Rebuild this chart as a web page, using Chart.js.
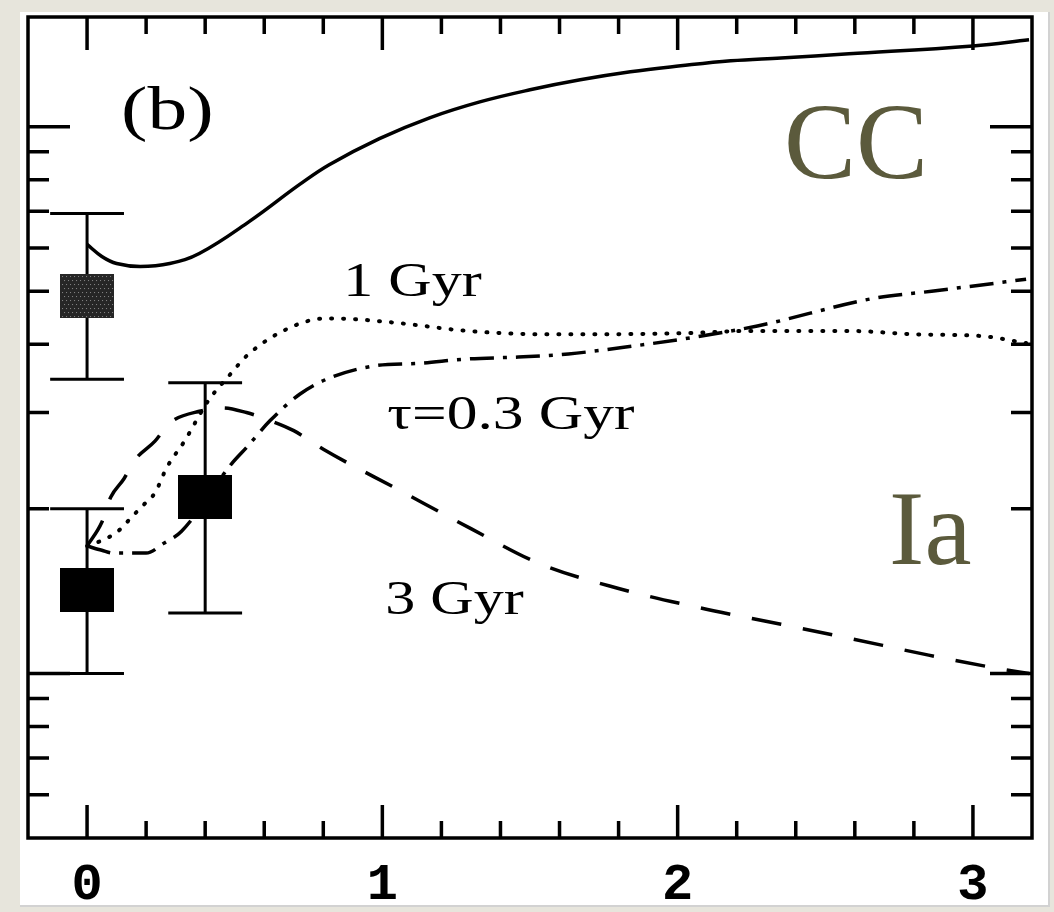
<!DOCTYPE html>
<html>
<head>
<meta charset="utf-8">
<title>Ia / CC</title>
<script src="https://cdn.jsdelivr.net/npm/chart.js@4.4.1/dist/chart.umd.min.js"></script>
<style>
  html, body { margin: 0; padding: 0; }
  body { width: 1054px; height: 912px; background: #e7e5dc; position: relative; overflow: hidden; }
  #frame { position: absolute; left: 20px; top: 12px; width: 1028px; height: 893px; background: #fff;
           border-right: 2px solid #d2d2d2; border-bottom: 2px solid #d2d2d2; }
</style>
</head>
<body>
<div id="frame"><canvas id="chart"></canvas></div>
<script>
// solid curve (CC)
const ccX = [0, 0.05, 0.1, 0.18, 0.28, 0.38, 0.55, 0.72, 0.82, 0.99, 1.16, 1.33, 1.5, 1.67, 1.84, 2.01, 2.18, 2.35, 2.58, 3.0, 3.19];
const ccY = [6.09, 5.79, 5.62, 5.55, 5.62, 5.86, 6.71, 7.84, 8.52, 9.51, 10.38, 11.1, 11.68, 12.18, 12.6, 12.92, 13.2, 13.36, 13.59, 14.05, 14.42];

// dotted curve (1 Gyr)
const oneGyrX = [0, 0.07, 0.115, 0.15, 0.19, 0.23, 0.27, 0.33, 0.41, 0.48, 0.55, 0.7, 0.81, 0.89, 1.06, 1.29, 1.57, 2.02, 2.24, 2.58, 2.81, 3.03, 3.18];
const oneGyrY = [1.71, 1.77, 1.84, 1.93, 2.03, 2.14, 2.38, 2.66, 3.15, 3.5, 3.85, 4.32, 4.46, 4.45, 4.37, 4.23, 4.17, 4.19, 4.23, 4.23, 4.17, 4.14, 4.02];

// dash-dot curve (tau = 0.3 Gyr)
const tauX = [0, 0.05, 0.09, 0.2, 0.26, 0.32, 0.49, 0.54, 0.62, 0.72, 0.81, 0.97, 1.12, 1.29, 1.46, 1.63, 1.85, 2.02, 2.27, 2.67, 2.86, 3.18];
const tauY = [1.71, 1.68, 1.66, 1.66, 1.73, 1.82, 2.42, 2.59, 2.9, 3.24, 3.45, 3.65, 3.69, 3.76, 3.79, 3.84, 3.97, 4.09, 4.32, 4.86, 5.0, 5.26];

// dashed curve (3 Gyr)
const threeGyrX = [0, 0.05, 0.08, 0.125, 0.16, 0.23, 0.28, 0.385, 0.46, 0.54, 0.62, 0.7, 0.8, 1.06, 1.3, 1.53, 1.8, 2.07, 2.35, 2.58, 2.85, 3.09, 3.19];
const threeGyrY = [1.71, 1.89, 2.1, 2.27, 2.45, 2.66, 2.87, 3.02, 3.06, 3.0, 2.9, 2.78, 2.57, 2.16, 1.84, 1.59, 1.43, 1.32, 1.23, 1.16, 1.08, 1.02, 1.0];

// measured points with error bars
const blackX = [0, 0.4];
const blackY = [1.42, 2.1];
const blackLow = [1.0, 1.29];
const blackHigh = [2.0, 3.4];
const grayX = [0];
const grayY = [4.9];
const grayLow = [3.45];
const grayHigh = [6.94];

// ticks
const xLabels = [0, 1, 2, 3];
const xMinor = [0.2, 0.4, 0.6, 0.8, 1.2, 1.4, 1.6, 1.8, 2.2, 2.4, 2.6, 2.8, 3.0];
const yMajor = [1, 10];
const yMinor = [0.6, 0.7, 0.8, 0.9, 2, 3, 4, 5, 6, 7, 8, 9];

const CAP = 0.125;
const olive = '#5b5a3c';

const notes = [
    { text: '(b)', x: 0.115, y: 9.92, font: '62px "Liberation Serif"', color: '#000', sx: 1.28 },
    { text: 'CC', x: 2.36, y: 8.04, font: '108px "Liberation Serif"', color: olive, sx: 1 },
    { text: 'Ia', x: 2.716, y: 1.587, font: '106px "Liberation Serif"', color: olive, sx: 1 },
    { text: '1 Gyr', x: 0.868, y: 4.9, font: '48px "Liberation Serif"', color: '#000', sx: 1.25 },
    { text: 'τ=0.3 Gyr', x: 1.017, y: 2.8, font: '48px "Liberation Serif"', color: '#000', sx: 1.28 },
    { text: '3 Gyr', x: 1.01, y: 1.287, font: '48px "Liberation Serif"', color: '#000', sx: 1.25 }
];

function pts(xs, ys) {
    return xs.map((x, i) => ({ x: x, y: ys[i] }));
}

function squareImage(gray) {
    const c = document.createElement('canvas');
    c.width = 54;
    c.height = 44;
    const g = c.getContext('2d');
    g.fillStyle = gray ? '#262626' : '#000';
    g.fillRect(0, 0, 54, 44);
    if (gray) {
        g.fillStyle = '#8c8c8c';
        for (let yy = 2; yy < 44; yy += 4) {
            for (let xx = (yy % 8 === 2 ? 2 : 4); xx < 54; xx += 4) {
                g.fillRect(xx, yy, 1, 1);
            }
        }
    }
    return c;
}

const errorBars = {
    id: 'errorBars',
    beforeDatasetsDraw(chart) {
        const { ctx, scales: { x, y } } = chart;
        ctx.save();
        ctx.strokeStyle = '#000';
        ctx.lineWidth = 3;
        chart.data.datasets.forEach(ds => {
            if (!ds.errLow) return;
            ds.data.forEach((p, i) => {
                const px = x.getPixelForValue(p.x);
                const top = y.getPixelForValue(ds.errHigh[i]);
                const bot = y.getPixelForValue(ds.errLow[i]);
                const l = x.getPixelForValue(p.x - CAP);
                const r = x.getPixelForValue(p.x + CAP);
                ctx.beginPath();
                ctx.moveTo(px, top); ctx.lineTo(px, bot);
                ctx.moveTo(l, top); ctx.lineTo(r, top);
                ctx.moveTo(l, bot); ctx.lineTo(r, bot);
                ctx.stroke();
            });
        });
        ctx.restore();
    }
};

const frameTicks = {
    id: 'frameTicks',
    afterDatasetsDraw(chart) {
        const { ctx, chartArea: a, scales: { x, y } } = chart;
        ctx.save();
        ctx.strokeStyle = '#000';
        ctx.lineWidth = 3.5;
        ctx.strokeRect(a.left, a.top, a.right - a.left, a.bottom - a.top);
        ctx.beginPath();
        const xt = (v, len) => {
            const p = x.getPixelForValue(v);
            ctx.moveTo(p, a.bottom); ctx.lineTo(p, a.bottom - len);
            ctx.moveTo(p, a.top); ctx.lineTo(p, a.top + len);
        };
        const yt = (v, len) => {
            const p = y.getPixelForValue(v);
            ctx.moveTo(a.left, p); ctx.lineTo(a.left + len, p);
            ctx.moveTo(a.right, p); ctx.lineTo(a.right - len, p);
        };
        xLabels.forEach(v => xt(v, 33));
        xMinor.forEach(v => xt(v, 17));
        yMajor.forEach(v => yt(v, 42));
        yMinor.forEach(v => yt(v, 21));
        ctx.stroke();
        ctx.restore();
    }
};

const labels = {
    id: 'labels',
    afterDraw(chart) {
        const { ctx, scales: { x, y } } = chart;
        ctx.save();
        ctx.textAlign = 'left';
        ctx.textBaseline = 'alphabetic';
        notes.forEach(n => {
            ctx.save();
            ctx.translate(x.getPixelForValue(n.x), y.getPixelForValue(n.y));
            ctx.scale(n.sx, 1);
            ctx.font = n.font;
            ctx.fillStyle = n.color;
            ctx.fillText(n.text, 0, 0);
            ctx.restore();
        });
        ctx.restore();
    }
};

const line = (data, dash, width) => ({
    data: data,
    borderColor: '#000',
    borderWidth: width,
    borderDash: dash,
    pointRadius: 0,
    fill: false,
    cubicInterpolationMode: 'monotone'
});

const solid = line(pts(ccX, ccY), [], 3.5);
solid.cubicInterpolationMode = 'default';
solid.tension = 0.4;

const dotted = line(pts(oneGyrX, oneGyrY), [1, 11], 4);
dotted.borderCapStyle = 'round';

new Chart(document.getElementById('chart'), {
    type: 'line',
    data: {
        datasets: [
            solid,
            dotted,
            line(pts(tauX, tauY), [24, 9, 4, 9], 3.5),
            line(pts(threeGyrX, threeGyrY), [30, 22], 3.5),
            {
                data: pts(grayX, grayY),
                errLow: grayLow,
                errHigh: grayHigh,
                showLine: false,
                pointStyle: squareImage(true)
            },
            {
                data: pts(blackX, blackY),
                errLow: blackLow,
                errHigh: blackHigh,
                showLine: false,
                pointStyle: squareImage(false)
            }
        ]
    },
    options: {
        responsive: true,
        maintainAspectRatio: false,
        animation: false,
        events: [],
        layout: { padding: { left: 8, top: 3, right: 16, bottom: 0 } },
        plugins: { legend: { display: false }, tooltip: { enabled: false } },
        scales: {
            x: {
                type: 'linear',
                min: -0.2,
                max: 3.2,
                bounds: 'data',
                grid: { display: false, drawTicks: false },
                border: { display: false },
                afterBuildTicks: s => { s.ticks = xLabels.map(v => ({ value: v })); },
                afterFit: s => { s.height = 67; },
                ticks: {
                    color: '#000',
                    padding: 17,
                    maxRotation: 0,
                    font: { family: 'Liberation Mono', weight: 'bold', size: 52 },
                    callback: v => String(v)
                }
            },
            y: {
                type: 'logarithmic',
                min: 0.5,
                max: 15.87,
                bounds: 'data',
                display: false
            }
        }
    },
    plugins: [errorBars, frameTicks, labels]
});
</script>
</body>
</html>
